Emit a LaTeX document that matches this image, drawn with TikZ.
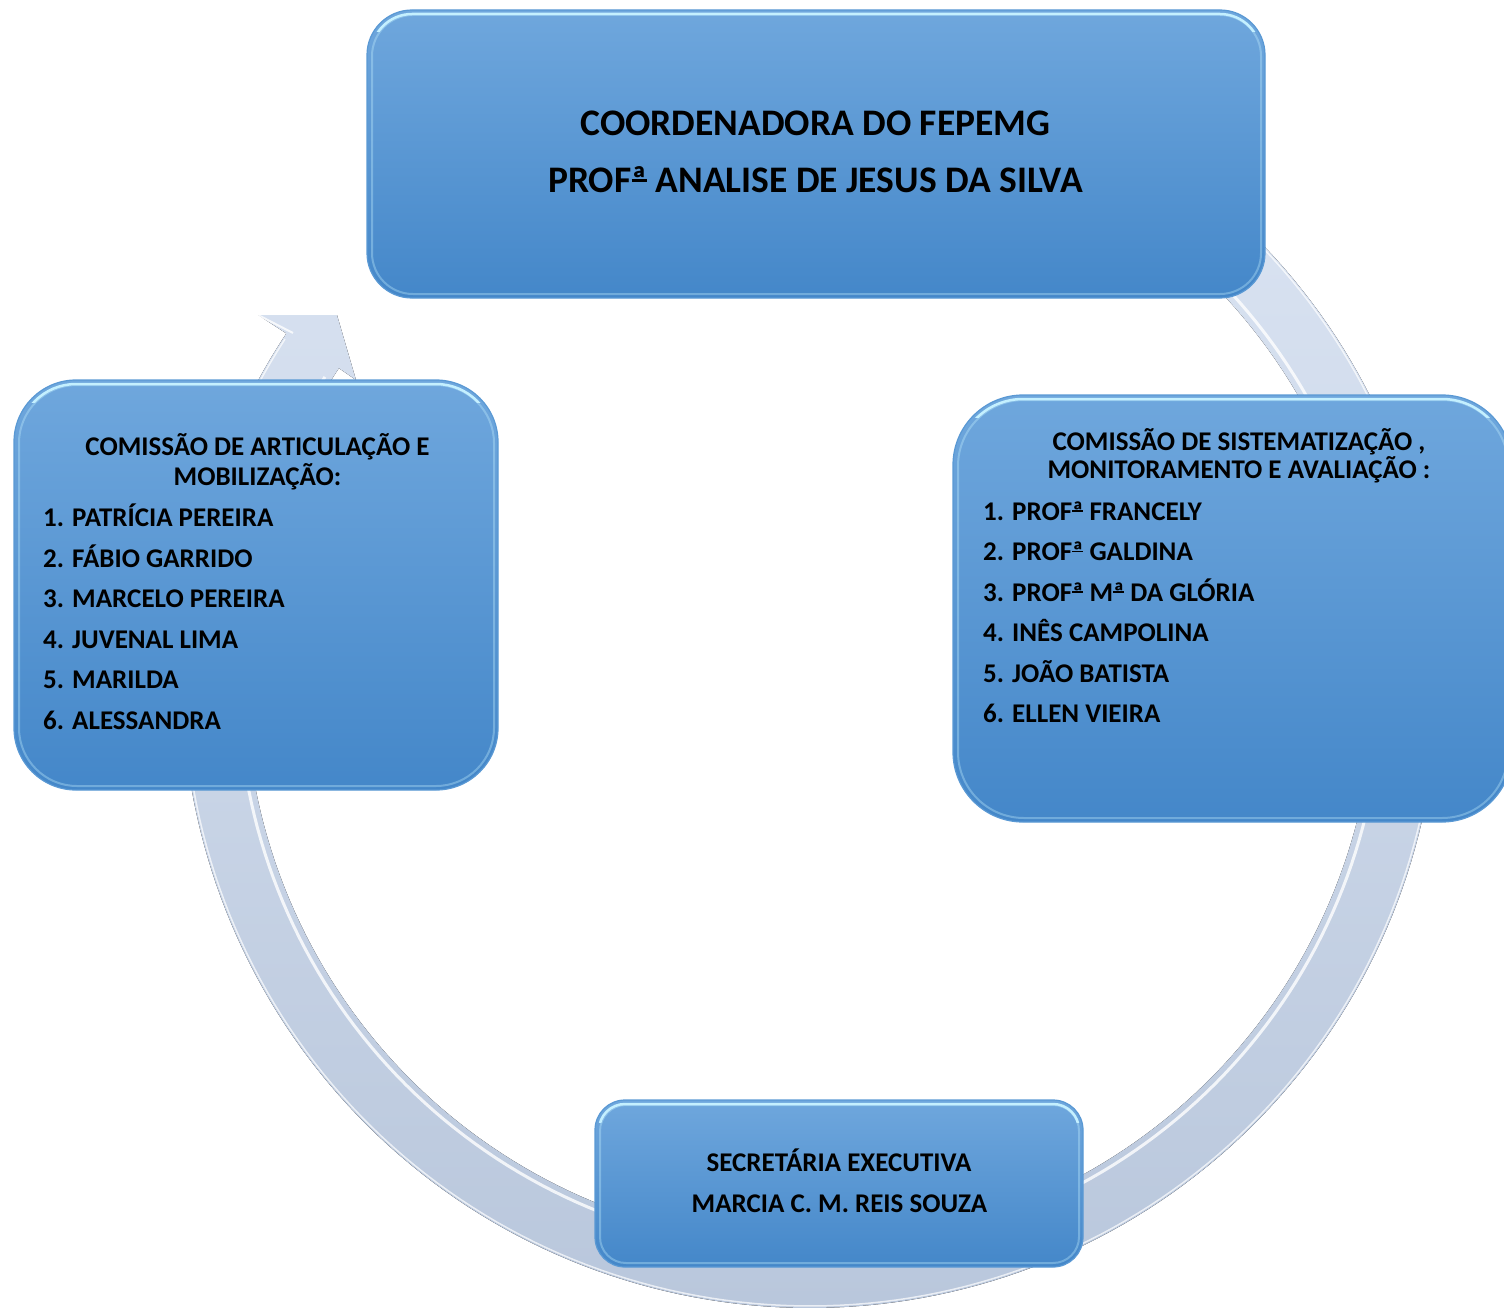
\documentclass[tikz,border=0pt]{standalone}
\usepackage{fontspec}
\setmainfont{Carlito}
\usetikzlibrary{calc}
\definecolor{boxtop}{HTML}{6FA7DD}
\definecolor{boxbot}{HTML}{4487C9}
\definecolor{ringtop}{HTML}{DDE6F4}
\definecolor{ringbot}{HTML}{B9C7DC}
\definecolor{glow}{HTML}{C4F0FF}
\definecolor{edgeblue}{HTML}{5A99D4}
\newcommand\orda{\leavevmode\setbox0\hbox{ª}\rlap{ª}\raisebox{0.3em}{\rule{\wd0}{0.07em}}}
\tikzset{
  gbox/.style={draw=edgeblue, line width=1.2pt, top color=boxtop, bottom color=boxbot, inner sep=0pt, outer sep=0pt},
  bigtxt/.style={font=\bfseries\fontsize{37.5}{42}\selectfont, anchor=base, inner sep=0pt},
  midtxt/.style={font=\bfseries\fontsize{27}{32}\selectfont, anchor=base, inner sep=0pt},
  itemtxt/.style={font=\bfseries\fontsize{27}{32}\selectfont, anchor=base west, inner sep=0pt},
}
\newcommand\bevelbox[2]{%
  \begin{scope}
    \clip ([yshift=2pt,xshift=-2pt]#1.north west) rectangle ([yshift=-22pt,xshift=2pt]#1.north east);
    \draw[glow, line width=2.5pt, rounded corners=#2] ([shift={(4pt,-4pt)}]#1.north west) rectangle ([shift={(-4pt,4pt)}]#1.south east);
  \end{scope}
  \draw[glow, line width=2pt, opacity=0.35, rounded corners=#2] ([shift={(5pt,-5pt)}]#1.north west) rectangle ([shift={(-4pt,4pt)}]#1.south east);
}
\begin{document}
\begin{tikzpicture}[x=1pt,y=-1pt]
\useasboundingbox (0,0) rectangle (1504,1308);
% circular arrow
\fill[top color=ringtop, bottom color=ringbot]
  plot[domain=-100:213.5, samples=240] ({810+628*cos(\x)},{680+628*sin(\x)})
  -- (258,315) -- (337,315) -- (356,380)
  -- plot[domain=213.5:-100, samples=240] ({810+565*cos(\x)},{680+565*sin(\x)}) -- cycle;
\draw[white, line width=3pt, opacity=0.8] plot[domain=-100:212, samples=240] ({810+572*cos(\x)},{680+572*sin(\x)});
\draw[white, line width=1.5pt, opacity=0.7] plot[domain=-100:213, samples=240] ({810+626*cos(\x)},{680+626*sin(\x)});
\draw[white, line width=2pt, opacity=0.8] (258,315) -- (293,333);
% boxes
\node[gbox, rounded corners=45pt, minimum width=898pt, minimum height=288pt] (top) at (816,154) {};
\bevelbox{top}{41pt}
\node[gbox, rounded corners=62pt, minimum width=484pt, minimum height=410pt] (left) at (256,585) {};
\bevelbox{left}{58pt}
\node[gbox, rounded corners=70pt, minimum width=559pt, minimum height=427pt] (right) at (1232.5,608.5) {};
\bevelbox{right}{66pt}
\node[gbox, rounded corners=30pt, minimum width=488pt, minimum height=167pt] (bottom) at (839,1183.5) {};
\bevelbox{bottom}{26pt}
% top texts
\node[bigtxt] (t1) at (815.5,136) {COORDENADORA DO FEPEMG};
\node[bigtxt] (t2) at (815.5,193) {PROF\orda{} ANALISE DE JESUS DA SILVA};
% left texts
\node[midtxt] (l0) at (257.5,455) {COMISSÃO DE ARTICULAÇÃO E};
\node[midtxt] (l00) at (257.5,485) {MOBILIZAÇÃO:};
\node[itemtxt] (l1) at (43,526.5) {1. PATRÍCIA PEREIRA};
\node[itemtxt] (l2) at (43,567) {2. FÁBIO GARRIDO};
\node[itemtxt] (l3) at (43,607.5) {3. MARCELO PEREIRA};
\node[itemtxt] (l4) at (43,648) {4. JUVENAL LIMA};
\node[itemtxt] (l5) at (43,688.5) {5. MARILDA};
\node[itemtxt] (l6) at (43,729) {6. ALESSANDRA};
% right texts
\node[midtxt] (r0) at (1239,450) {COMISSÃO DE SISTEMATIZAÇÃO ,};
\node[midtxt] (r00) at (1239,478) {MONITORAMENTO E AVALIAÇÃO :};
\node[itemtxt] (r1) at (983,520) {1. PROF\orda{} FRANCELY};
\node[itemtxt] (r2) at (983,560.5) {2. PROF\orda{} GALDINA};
\node[itemtxt] (r3) at (983,601) {3. PROF\orda{} M\orda{} DA GLÓRIA};
\node[itemtxt] (r4) at (983,641.5) {4. INÊS CAMPOLINA};
\node[itemtxt] (r5) at (983,682) {5. JOÃO BATISTA};
\node[itemtxt] (r6) at (983,722.5) {6. ELLEN VIEIRA};
% bottom texts
\node[midtxt] (b1) at (839,1171) {SECRETÁRIA EXECUTIVA};
\node[midtxt] (b2) at (839.5,1212.5) {MARCIA C. M. REIS SOUZA};
\end{tikzpicture}
\end{document}
